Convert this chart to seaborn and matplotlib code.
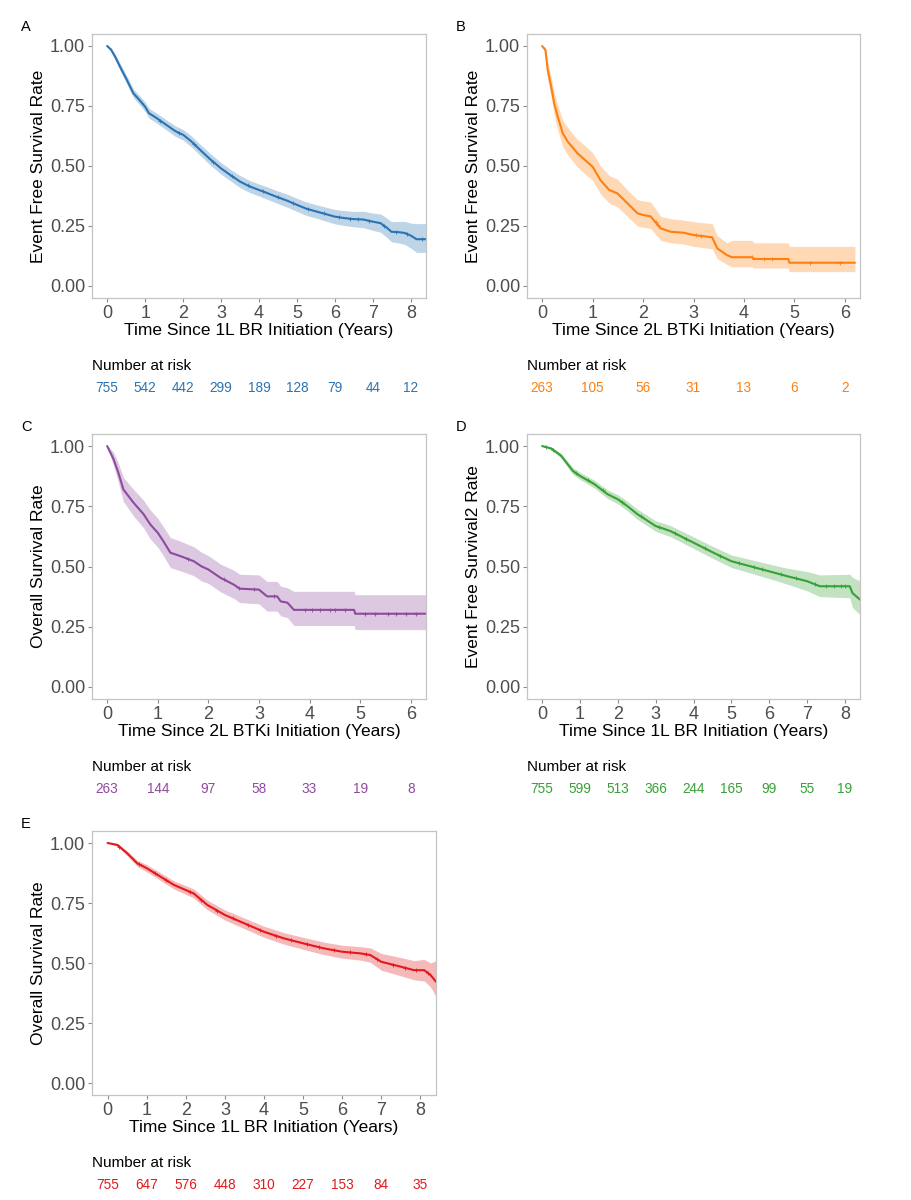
import numpy as np
import pandas as pd
import matplotlib
matplotlib.use("Agg")
import matplotlib.pyplot as plt
import seaborn as sns

# ---- panel A : EFS, 1L BR ----
tA = [0, 0.1, 0.21, 0.35, 0.52, 0.69, 0.85, 1.0, 1.1, 1.3, 1.57, 1.8, 2.0, 2.2, 2.45, 2.7, 3.0, 3.25,
      3.5, 3.75, 4.0, 4.25, 4.46, 4.75, 5.0, 5.25, 5.52, 5.75, 6.0, 6.25, 6.48, 6.75, 7.0, 7.2, 7.35,
      7.49, 7.7, 7.84, 8.0, 8.15, 8.4]
sA = [1.0, 0.985, 0.955, 0.91, 0.858, 0.803, 0.775, 0.747, 0.72, 0.70, 0.67, 0.645, 0.63, 0.605, 0.567,
      0.53, 0.49, 0.462, 0.435, 0.415, 0.40, 0.385, 0.372, 0.355, 0.338, 0.322, 0.31, 0.30, 0.289, 0.283,
      0.279, 0.277, 0.268, 0.262, 0.245, 0.226, 0.224, 0.221, 0.21, 0.195, 0.195]
loA = [1.0, 0.977, 0.943, 0.895, 0.841, 0.785, 0.756, 0.727, 0.70, 0.679, 0.649, 0.623, 0.608, 0.582, 0.544,
       0.506, 0.466, 0.438, 0.41, 0.39, 0.375, 0.359, 0.346, 0.328, 0.311, 0.294, 0.282, 0.271, 0.259, 0.252,
       0.247, 0.243, 0.232, 0.224, 0.205, 0.184, 0.179, 0.173, 0.158, 0.14, 0.14]
hiA = [1.0, 0.993, 0.967, 0.925, 0.875, 0.821, 0.794, 0.767, 0.74, 0.721, 0.691, 0.667, 0.652, 0.628, 0.59,
       0.554, 0.514, 0.486, 0.46, 0.44, 0.425, 0.411, 0.398, 0.382, 0.365, 0.35, 0.338, 0.329, 0.319, 0.314,
       0.311, 0.311, 0.304, 0.30, 0.285, 0.268, 0.269, 0.269, 0.262, 0.26, 0.26]
censA = [1.4, 1.9, 2.3, 2.8, 3.3, 3.7, 4.1, 4.5, 4.9, 5.3, 5.7, 6.1, 6.4, 6.6, 6.9, 7.3, 7.6, 7.9, 8.3]
riskA = [755, 542, 442, 299, 189, 128, 79, 44, 12]

# ---- panel B : EFS, 2L BTKi ----
tB = [0, 0.066, 0.11, 0.18, 0.24, 0.31, 0.41, 0.51, 0.70, 0.85, 1.0, 1.16, 1.33, 1.49, 1.69, 1.89, 2.0,
      2.15, 2.35, 2.55, 2.8, 3.0, 3.37, 3.47, 3.66, 3.76, 4.16, 4.19, 4.88, 4.9, 6.2]
sB = [1.0, 0.983, 0.90, 0.83, 0.761, 0.705, 0.636, 0.601, 0.553, 0.525, 0.497, 0.44, 0.40, 0.386, 0.345,
      0.303, 0.296, 0.29, 0.24, 0.226, 0.222, 0.2125, 0.203, 0.157, 0.129, 0.12, 0.12, 0.1125, 0.1125,
      0.097, 0.097]
loB = [1.0, 0.97, 0.86, 0.785, 0.71, 0.65, 0.58, 0.545, 0.495, 0.467, 0.44, 0.383, 0.345, 0.33, 0.29, 0.25,
       0.245, 0.24, 0.19, 0.18, 0.175, 0.165, 0.155, 0.115, 0.09, 0.08, 0.08, 0.075, 0.075, 0.06, 0.06]
hiB = [1.0, 0.995, 0.935, 0.87, 0.805, 0.755, 0.69, 0.66, 0.61, 0.585, 0.555, 0.50, 0.46, 0.445, 0.40, 0.36,
       0.355, 0.35, 0.29, 0.28, 0.275, 0.268, 0.26, 0.21, 0.18, 0.19, 0.19, 0.18, 0.18, 0.165, 0.165]
censB = [2.25, 2.3, 3.05, 3.15, 4.15, 4.4, 4.55, 5.3, 5.9]
riskB = [263, 105, 56, 31, 13, 6, 2]

# ---- panel C : OS, 2L BTKi ----
tC = [0, 0.125, 0.22, 0.32, 0.52, 0.72, 0.85, 1.0, 1.11, 1.25, 1.45, 1.71, 1.86, 2.0, 2.24, 2.5, 2.62,
      3.0, 3.16, 3.36, 3.43, 3.56, 3.69, 4.88, 4.9, 6.3]
sC = [1.0, 0.946, 0.89, 0.82, 0.765, 0.717, 0.675, 0.64, 0.605, 0.557, 0.543, 0.522, 0.501, 0.4875, 0.453,
      0.425, 0.408, 0.404, 0.376, 0.376, 0.355, 0.35, 0.32, 0.32, 0.304, 0.304]
loC = [1.0, 0.918, 0.85, 0.77, 0.71, 0.66, 0.615, 0.58, 0.545, 0.495, 0.482, 0.462, 0.44, 0.43, 0.395,
       0.368, 0.35, 0.345, 0.315, 0.315, 0.295, 0.288, 0.255, 0.255, 0.238, 0.238]
hiC = [1.0, 0.975, 0.93, 0.87, 0.82, 0.775, 0.735, 0.70, 0.665, 0.62, 0.605, 0.582, 0.56, 0.545, 0.51,
       0.485, 0.468, 0.465, 0.438, 0.438, 0.418, 0.412, 0.397, 0.397, 0.383, 0.383]
censC = [1.6, 2.3, 2.6, 2.9, 3.3, 3.9, 4.05, 4.2, 4.4, 4.5, 4.7, 5.1, 5.3, 5.55, 5.7, 5.9, 6.1]
riskC = [263, 144, 97, 58, 33, 19, 8]

# ---- panel D : EFS2, 1L BR ----
tD = [0, 0.24, 0.5, 0.81, 1.0, 1.38, 1.73, 2.0, 2.25, 2.52, 3.0, 3.39, 4.0, 4.53, 5.0, 5.5, 6.0, 6.47,
      7.0, 7.34, 8.13, 8.2, 8.4]
sD = [1.0, 0.99, 0.96, 0.897, 0.876, 0.842, 0.80, 0.779, 0.751, 0.717, 0.668, 0.647, 0.599, 0.557, 0.522,
      0.501, 0.48, 0.46, 0.439, 0.418, 0.418, 0.39, 0.3625]
loD = [1.0, 0.984, 0.95, 0.883, 0.861, 0.826, 0.782, 0.76, 0.731, 0.696, 0.646, 0.624, 0.575, 0.532, 0.496,
       0.473, 0.45, 0.427, 0.399, 0.375, 0.37, 0.33, 0.30]
hiD = [1.0, 0.996, 0.97, 0.911, 0.891, 0.858, 0.818, 0.798, 0.771, 0.738, 0.69, 0.67, 0.623, 0.582, 0.548,
       0.529, 0.51, 0.493, 0.479, 0.465, 0.468, 0.455, 0.44]
censD = [0.1, 0.3, 0.9, 1.2, 1.6, 2.1, 2.6, 3.1, 3.5, 3.8, 4.3, 4.7, 5.2, 5.6, 5.8, 6.3, 6.7, 7.2, 7.5,
         7.7, 7.9, 8.0]
riskD = [755, 599, 513, 366, 244, 165, 99, 55, 19]

# ---- panel E : OS, 1L BR ----
tE = [0, 0.25, 0.5, 0.76, 1.0, 1.35, 1.7, 2.0, 2.2, 2.55, 3.0, 3.4, 4.0, 4.5, 5.0, 5.53, 6.0, 6.47, 6.72,
      7.0, 7.49, 7.84, 8.1, 8.26, 8.4]
sE = [1.0, 0.992, 0.957, 0.915, 0.895, 0.86, 0.825, 0.804, 0.79, 0.742, 0.70, 0.672, 0.63, 0.603, 0.582,
      0.561, 0.547, 0.54, 0.533, 0.505, 0.485, 0.47, 0.47, 0.45, 0.422]
loE = [1.0, 0.986, 0.947, 0.902, 0.88, 0.844, 0.808, 0.786, 0.771, 0.722, 0.679, 0.65, 0.607, 0.579, 0.557,
       0.535, 0.52, 0.512, 0.503, 0.47, 0.447, 0.43, 0.425, 0.40, 0.36]
hiE = [1.0, 0.998, 0.967, 0.928, 0.91, 0.876, 0.842, 0.822, 0.809, 0.762, 0.721, 0.694, 0.653, 0.627, 0.607,
       0.587, 0.574, 0.568, 0.563, 0.54, 0.523, 0.51, 0.515, 0.50, 0.51]
censE = [0.3, 0.8, 1.2, 1.5, 2.1, 2.4, 2.8, 3.2, 3.6, 3.9, 4.3, 4.7, 5.1, 5.4, 5.8, 6.2, 6.6, 6.9, 7.3,
         7.6, 7.9, 8.2]
riskE = [755, 647, 576, 448, 310, 227, 153, 84, 35]

panels = [
    # letter, t, s, lo, hi, censor, risk, color, ylabel, xlabel, xmax, axes rect (px: left, top, right, bottom)
    ("A", tA, sA, loA, hiA, censA, riskA, "#2a74b3", "Event Free Survival Rate",
     "Time Since 1L BR Initiation (Years)", 8, (92, 34, 426, 298)),
    ("B", tB, sB, loB, hiB, censB, riskB, "#ff7f0e", "Event Free Survival Rate",
     "Time Since 2L BTKi Initiation (Years)", 6, (527, 34, 860, 298)),
    ("C", tC, sC, loC, hiC, censC, riskC, "#8e4a9e", "Overall Survival Rate",
     "Time Since 2L BTKi Initiation (Years)", 6, (92, 434, 426, 699)),
    ("D", tD, sD, loD, hiD, censD, riskD, "#36a136", "Event Free Survival2 Rate",
     "Time Since 1L BR Initiation (Years)", 8, (527, 434, 860, 699)),
    ("E", tE, sE, loE, hiE, censE, riskE, "#e3191c", "Overall Survival Rate",
     "Time Since 1L BR Initiation (Years)", 8, (92, 831, 436, 1095)),
]

sns.set_theme(style="white")
plt.rcParams['font.family'] = ['Liberation Sans', 'DejaVu Sans']

W, H = 911, 1200
fig = plt.figure(figsize=(W / 100, H / 100), dpi=100)

for letter, t, s, lo, hi, cens, risk, col, ylab, xlab, xmax, (l, tp, r, b) in panels:
    ax = fig.add_axes([l / W, 1 - b / H, (r - l) / W, (b - tp) / H])
    df = pd.DataFrame({"time": t, "surv": s, "lo": lo, "hi": hi})
    ax.fill_between(df["time"], df["lo"], df["hi"], color=col, alpha=0.3, linewidth=0)
    sns.lineplot(data=df, x="time", y="surv", ax=ax, color=col, linewidth=1.5)
    # censoring ticks
    ax.plot(cens, np.interp(cens, t, s), linestyle="none", marker="+", color=col,
            markersize=3, markeredgewidth=0.6)

    ax.set_xlim(-0.05 * xmax, xmax * 1.05)
    ax.set_ylim(-0.05, 1.05)
    ax.set_xticks(range(0, xmax + 1))
    ax.set_yticks([0, 0.25, 0.5, 0.75, 1.0])
    ax.set_yticklabels(["0.00", "0.25", "0.50", "0.75", "1.00"])
    ax.tick_params(axis="both", which="major", bottom=True, left=True, length=3, width=0.8,
                   color="#8c8c8c", labelcolor="#4d4d4d", labelsize=13, pad=2)
    ax.set_xlabel(xlab, fontsize=12.5, color="black", labelpad=1)
    ax.set_ylabel(ylab, fontsize=12.5, color="black", labelpad=3)
    for sp in ax.spines.values():
        sp.set_color("#c4c4c4")
        sp.set_linewidth(0.9)

    # number at risk table under the axis
    tr = ax.get_xaxis_transform()
    ax.text(0, -0.258, "Number at risk", transform=ax.transAxes, ha="left", va="center",
            fontsize=11, color="black")
    for i, n in enumerate(risk):
        ax.text(i, -0.341, str(n), transform=tr, ha="center", va="center", fontsize=9.8, color=col)

    fig.text((l - 66) / W, 1 - (tp - 7) / H, letter, ha="center", va="center", fontsize=10.5, color="black")

fig.savefig("out.png", dpi=100)
